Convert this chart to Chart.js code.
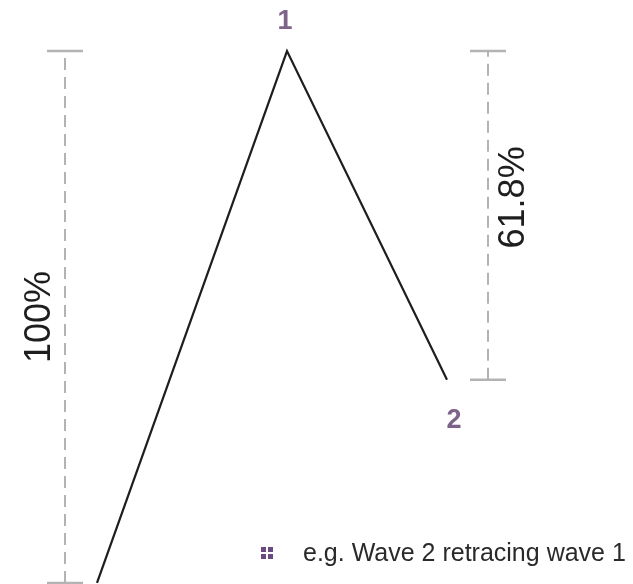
<!DOCTYPE html>
<html lang="en">
<head>
    <meta charset="utf-8">
    <title>Wave 2 retracement</title>
    <script src="https://cdn.jsdelivr.net/npm/chart.js"></script>
    <style>
        body { margin: 0; background: #fff; font-family: "Liberation Sans", Arial, sans-serif; }
        .wrap { position: relative; width: 633px; height: 584px; }
        .legend {
            position: absolute; left: 261px; top: 538px;
            font-size: 25px; color: #2a2a2a; white-space: nowrap;
            display: flex; align-items: center;
        }
        .legend .icon {
            display: grid; grid-template-columns: 5px 5px; grid-gap: 2px;
            margin-right: 30px;
        }
        .legend .icon span { width: 5px; height: 5px; background: #6a4a80; }
    </style>
</head>
<body>
<div class="wrap">
    <canvas id="wave"></canvas>
    <div class="legend">
        <div class="icon"><span></span><span></span><span></span><span></span></div>
        <div id="legendText"></div>
    </div>
</div>
<script>
    // wave points (time, price level)
    const waveTime = [0, 19, 35];
    const wavePrice = [0, 100, 38.2];
    const waveLabels = ['', '1', '2'];

    // measuring brackets
    const bracketTime = [-3.2, 39.1];
    const bracketLow = [0, 38.2];
    const bracketHigh = [100, 100];
    const bracketLabels = ['100%', '61.8%'];

    const legendLabel = 'e.g. Wave 2 retracing wave 1';
    document.getElementById('legendText').textContent = legendLabel;

    const capHalf = 1.8;
    const grey = '#b3b3b3';

    const wavePoints = waveTime.map((t, i) => ({x: t, y: wavePrice[i]}));

    const bracketSets = [];
    bracketTime.forEach((t, i) => {
        bracketSets.push({
            data: [{x: t, y: bracketLow[i]}, {x: t, y: bracketHigh[i]}],
            borderColor: grey, borderWidth: 2, borderDash: [12, 7],
            pointRadius: 0, clip: false
        });
        bracketSets.push({
            data: [
                {x: t - capHalf, y: bracketLow[i]}, {x: t + capHalf, y: bracketLow[i]}, {x: null, y: null},
                {x: t - capHalf, y: bracketHigh[i]}, {x: t + capHalf, y: bracketHigh[i]}
            ],
            borderColor: grey, borderWidth: 2.5, spanGaps: false,
            pointRadius: 0, clip: false
        });
    });

    // text next to wave points and brackets
    const annotate = {
        id: 'annotate',
        afterDatasetsDraw(chart) {
            const ctx = chart.ctx;
            const xs = chart.scales.x, ys = chart.scales.y;
            ctx.save();
            ctx.textAlign = 'center';
            ctx.textBaseline = 'middle';
            ctx.fillStyle = '#7d638b';
            ctx.font = 'bold 27px "Liberation Sans", Arial, sans-serif';
            waveLabels.forEach((lab, i) => {
                if (!lab) return;
                const px = xs.getPixelForValue(waveTime[i]);
                const py = ys.getPixelForValue(wavePrice[i]);
                if (i === 1) ctx.fillText(lab, px - 2, py - 29);
                else ctx.fillText(lab, px + 7, py + 41);
            });
            ctx.fillStyle = '#1e1e1e';
            ctx.font = '36px "Liberation Sans", Arial, sans-serif';
            bracketLabels.forEach((lab, i) => {
                const px = xs.getPixelForValue(bracketTime[i]);
                const top = ys.getPixelForValue(bracketHigh[i]);
                const bot = ys.getPixelForValue(bracketLow[i]);
                const cx = i === 0 ? px - 25 : px + 26;
                const cy = i === 0 ? (top + bot) / 2 : (top + bot) / 2 - 18;
                ctx.save();
                ctx.translate(cx, cy);
                ctx.rotate(-Math.PI / 2);
                ctx.fillText(lab, 0, 0);
                ctx.restore();
            });
            ctx.restore();
        }
    };

    const chart = new Chart(document.getElementById('wave'), {
        type: 'line',
        data: {
            datasets: [{
                data: wavePoints,
                borderColor: '#1e1e1e', borderWidth: 2.2,
                pointRadius: 0, tension: 0, clip: false
            }].concat(bracketSets)
        },
        options: {
            responsive: true,
            maintainAspectRatio: false,
            animation: false,
            layout: { padding: 0, autoPadding: false },
            plugins: { legend: { display: false }, tooltip: { enabled: false } },
            scales: {
                x: { type: 'linear', display: false, min: -9.7, max: 53.6 },
                y: { display: false, min: -0.19, max: 109.59 }
            }
        },
        plugins: [annotate]
    });
</script>
</body>
</html>
